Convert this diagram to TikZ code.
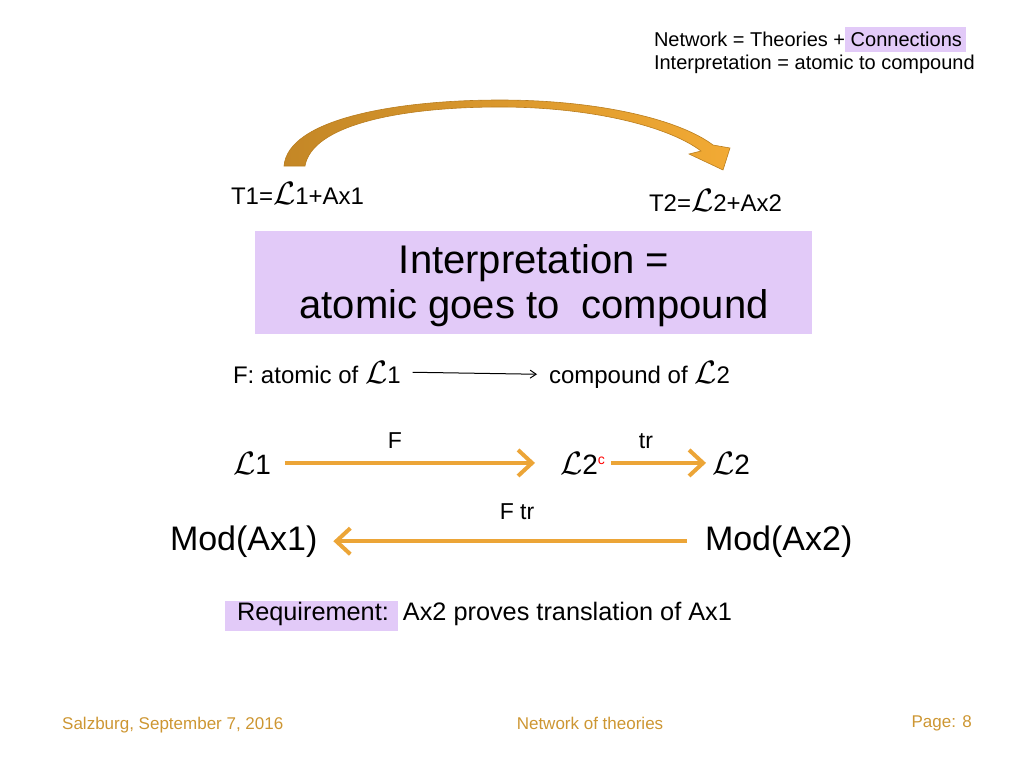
\documentclass[tikz,border=0pt]{standalone}
\usepackage{fontspec}
\setmainfont{Liberation Sans}
\usetikzlibrary{arrows.meta}
\definecolor{arr}{RGB}{236,165,55}
\definecolor{lav}{RGB}{226,202,248}
\definecolor{foot}{RGB}{205,150,50}
\definecolor{goldL}{RGB}{196,135,38}
\definecolor{goldR}{RGB}{242,170,52}
\definecolor{goldE}{RGB}{185,125,30}
\newcommand{\fs}[1]{\fontsize{#1}{#1}\selectfont}
\newcommand{\Ls}{\scalebox{1.3}{$\mathcal{L}$}}
\tikzset{
  txt/.style={inner sep=0pt, outer sep=0pt, anchor=base west},
  ctxt/.style={inner sep=0pt, outer sep=0pt, anchor=base},
  oarrow/.style={draw=arr, line width=4pt, -{Straight Barb[length=14pt,width=26pt,line width=4pt]}},
  farrow/.style={draw=black, line width=1pt, -{Straight Barb[length=6pt,width=8pt]}},
  foottxt/.style={inner sep=0pt, text=foot, font=\fs{17}},
}
\begin{document}
\begin{tikzpicture}[x=1pt,y=-1pt]
\useasboundingbox (0,0) rectangle (1024,768);
% highlight boxes
\fill[lav] (845,27) rectangle (966,52);
\fill[lav] (255,231) rectangle (812,334);
\fill[lav] (225,601) rectangle (398,631);
% top right texts
\node[txt, font=\fs{20}] (net) at (654,46) {Network = Theories + Connections};
\node[txt, font=\fs{20}] (intp) at (654,70) {Interpretation = atomic to compound};
% curved arrow
\shade[left color=goldL, right color=goldR, draw=goldE, line width=0.6pt]
  (284,166) .. controls (288,118) and (400,100) .. (500,100)
  .. controls (600,100) and (680,120) .. (713,145)
  -- (730,148) -- (723,170) -- (689,154) -- (701,151)
  .. controls (668,126) and (590,107) .. (500,107)
  .. controls (400,107) and (312,125) .. (305,166) -- cycle;
% theories
\node[txt, font=\fs{24}] (t1) at (231,204) {T1=\Ls1+Ax1};
\node[txt, font=\fs{24}] (t2) at (649,211) {T2=\Ls2+Ax2};
% box text
\node[ctxt, font=\fs{40}] (b1) at (534,273) {Interpretation =};
\node[ctxt, font=\fs{40}] (b2) at (534,318) {atomic goes to\ \ compound};
% F line
\node[txt, font=\fs{24}] (fa) at (233,383) {F: atomic of \Ls1};
\node[txt, font=\fs{24}] (fc) at (549,383) {compound of \Ls2};
\draw[farrow, shorten <=12pt, shorten >=12pt] (fa.east) -- (fc.west);
% L row
\node[txt, font=\fs{28}] (l1) at (233,474) {\Ls1};
\node[txt, font=\fs{28}] (l2c) at (560,474) {\Ls2\textsuperscript{\textcolor{red}{\fs{14}c}}};
\node[txt, font=\fs{28}] (l2) at (712,474) {\Ls2};
\draw[oarrow, shorten <=14pt, shorten >=25pt] (l1.east) -- (l2c.west |- l1.east);
\draw[oarrow, shorten <=6pt, shorten >=6pt] (l2c.east |- l1.east) -- (l2.west |- l1.east);
\node[ctxt, font=\fs{23}] (flab) at (395,448) {F};
\node[ctxt, font=\fs{23}] (trlab) at (646,448) {tr};
% Mod row
\node[txt, font=\fs{34}] (m1) at (170,550) {Mod(Ax1)};
\node[txt, font=\fs{34}] (m2) at (705,550) {Mod(Ax2)};
\draw[oarrow, shorten <=18pt, shorten >=16pt] (m2.west) -- (m1.east);
\node[ctxt, font=\fs{23}] (ftr) at (517,519) {F tr};
% requirement
\node[txt, font=\fs{25.3}] (req) at (237,620) {Requirement:\ \ Ax2 proves translation of Ax1};
% footer
\node[foottxt, anchor=base west] (f1) at (62,729) {Salzburg, September 7, 2016};
\node[foottxt, anchor=base] (f2) at (590,729) {Network of theories};
\node[foottxt, anchor=base east] (f3) at (972,727) {Page: 8};
\end{tikzpicture}
\end{document}
